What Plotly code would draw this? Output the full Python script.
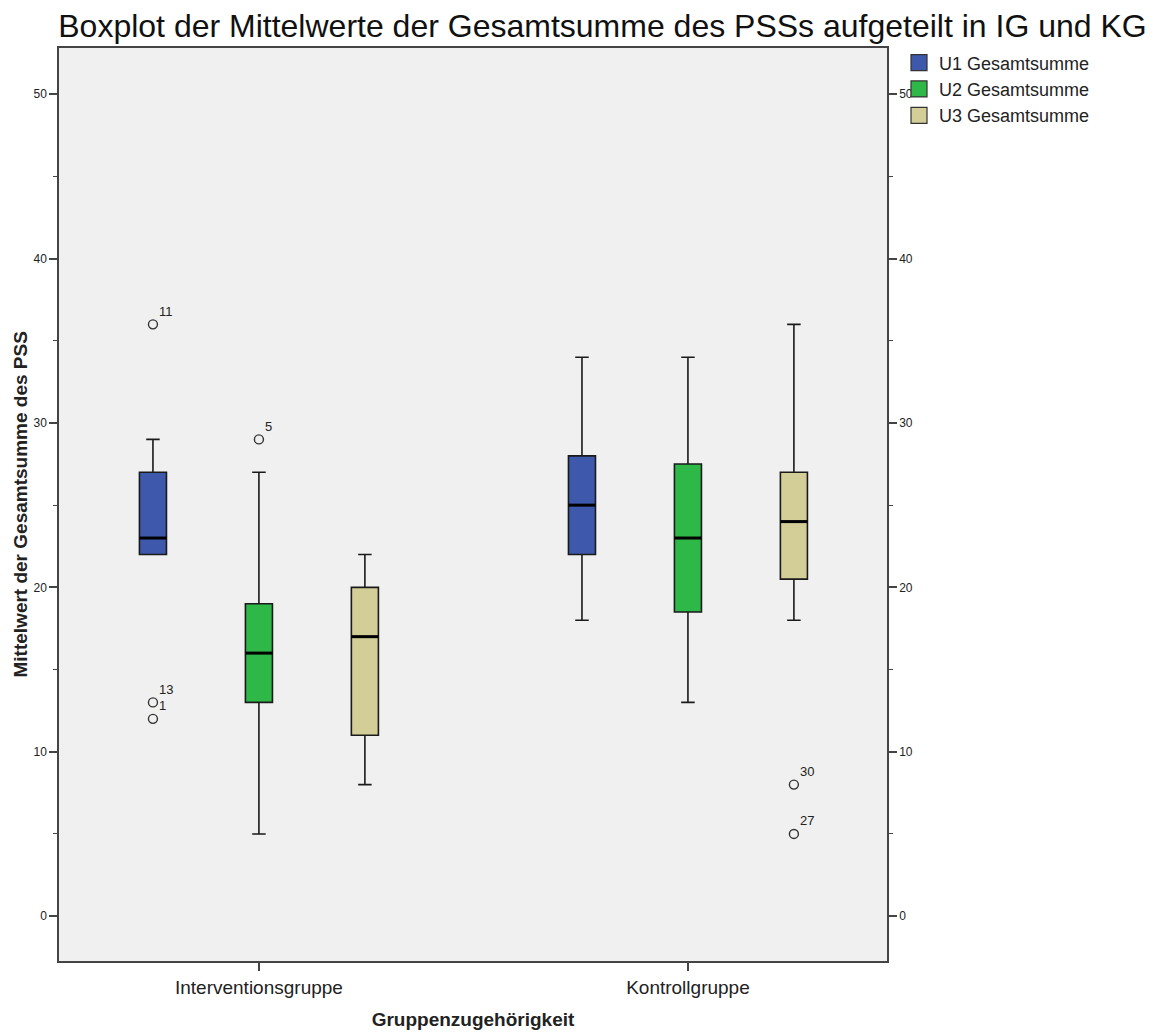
import plotly.graph_objects as go

groups = ["Interventionsgruppe", "Kontrollgruppe"]
series = ["U1 Gesamtsumme", "U2 Gesamtsumme", "U3 Gesamtsumme"]
colors = ["#3E58AC", "#2EB848", "#D3CE97"]

# per series: [IG, KG]
q1 = {"U1 Gesamtsumme": [22, 22], "U2 Gesamtsumme": [13, 18.5], "U3 Gesamtsumme": [11, 20.5]}
median = {"U1 Gesamtsumme": [23, 25], "U2 Gesamtsumme": [16, 23], "U3 Gesamtsumme": [17, 24]}
q3 = {"U1 Gesamtsumme": [27, 28], "U2 Gesamtsumme": [19, 27.5], "U3 Gesamtsumme": [20, 27]}
lower = {"U1 Gesamtsumme": [22, 18], "U2 Gesamtsumme": [5, 13], "U3 Gesamtsumme": [8, 18]}
upper = {"U1 Gesamtsumme": [29, 34], "U2 Gesamtsumme": [27, 34], "U3 Gesamtsumme": [22, 36]}

# outliers: (series, group index, value, case label)
out_series = ["U1 Gesamtsumme", "U1 Gesamtsumme", "U1 Gesamtsumme", "U2 Gesamtsumme", "U3 Gesamtsumme", "U3 Gesamtsumme"]
out_group = [0, 0, 0, 0, 1, 1]
out_value = [36, 13, 12, 29, 8, 5]
out_label = ["11", "13", "1", "5", "30", "27"]

offset = 0.247
bw = 0.063

fig = go.Figure()

for i, s in enumerate(series):
    pos = [g + (i - 1) * offset for g in range(len(groups))]
    fig.add_trace(go.Box(
        x=pos, q1=q1[s], median=median[s], q3=q3[s],
        lowerfence=lower[s], upperfence=upper[s],
        name=s, fillcolor=colors[i],
        line=dict(color="#1a1a1a", width=1.6),
        width=bw, whiskerwidth=0.5, boxpoints=False,
        showlegend=False, hoverinfo="skip",
    ))

# median lines (thicker, black)
for i, s in enumerate(series):
    xs, ys = [], []
    for g in range(len(groups)):
        p = g + (i - 1) * offset
        xs += [p - bw / 2, p + bw / 2, None]
        ys += [median[s][g], median[s][g], None]
    fig.add_trace(go.Scatter(x=xs, y=ys, mode="lines",
                             line=dict(color="black", width=3),
                             showlegend=False, hoverinfo="skip"))

ox = [out_group[k] + (series.index(out_series[k]) - 1) * offset for k in range(len(out_value))]
fig.add_trace(go.Scatter(
    x=ox, y=out_value, mode="markers",
    marker=dict(symbol="circle-open", size=9, color="#333", line=dict(width=1.4)),
    showlegend=False, hoverinfo="skip", cliponaxis=False,
))
for k in range(len(out_value)):
    fig.add_annotation(x=ox[k], y=out_value[k], text=out_label[k], showarrow=False,
                       xanchor="left", yanchor="middle", xshift=4, yshift=13,
                       font=dict(family="Liberation Sans, Arial", size=13, color="#222"))

# legend entries (square swatches)
for i, s in enumerate(series):
    fig.add_trace(go.Scatter(
        x=[None], y=[None], mode="markers", name=s,
        marker=dict(symbol="square", size=16, color=colors[i], line=dict(color="#333", width=1.2)),
        showlegend=True, hoverinfo="skip",
    ))

yr = [-2.73, 52.81]
axis_line = dict(showline=True, linecolor="#444", linewidth=1.5)
fig.update_layout(
    width=1155, height=1034,
    paper_bgcolor="white", plot_bgcolor="#F0F0F0",
    margin=dict(l=51, r=276, t=40, b=81, autoexpand=False),
    font=dict(family="Liberation Sans, Arial", color="#222"),
    title=dict(text="Boxplot der Mittelwerte der Gesamtsumme des PSSs aufgeteilt in IG und KG",
               x=(602.5 - 8) / 1155, xanchor="center", y=1 - 7 / 1034, yanchor="top",
               font=dict(size=32, color="#111")),
    legend=dict(x=1.0145, y=1.004, xanchor="left", yanchor="top",
                font=dict(size=18, color="#222"), bgcolor="rgba(0,0,0,0)",
                tracegroupgap=0, itemwidth=30),
    xaxis=dict(range=[-0.466, 1.464], tickvals=list(range(len(groups))), ticktext=groups,
               ticks="outside", ticklen=8, tickcolor="#444", tickwidth=1.5,
               tickfont=dict(size=19), showgrid=False, zeroline=False,
               mirror=True, automargin=False, **axis_line,
               title=dict(text="<b>Gruppenzugehörigkeit</b>", font=dict(size=19), standoff=16)),
    yaxis=dict(range=yr, dtick=10, tick0=0, ticks="outside", ticklen=8, tickcolor="#444",
               tickwidth=1.5, tickfont=dict(size=12), showgrid=False, zeroline=False,
               minor=dict(dtick=5, tick0=0, ticks="outside", ticklen=4, tickcolor="#444", tickwidth=1.2),
               automargin=False, **axis_line),
    yaxis2=dict(range=yr, overlaying="y", side="right", dtick=10, tick0=0, ticks="outside",
                ticklen=8, tickcolor="#444", tickwidth=1.5, tickfont=dict(size=12),
                showgrid=False, zeroline=False, automargin=False,
                minor=dict(dtick=5, tick0=0, ticks="outside", ticklen=4, tickcolor="#444", tickwidth=1.2),
                **axis_line),
)
fig.add_annotation(xref="paper", yref="paper", x=(20 - 8 - 51) / 828, y=0.5,
                   text="<b>Mittelwert der Gesamtsumme des PSS</b>", textangle=-90,
                   showarrow=False, xanchor="center", yanchor="middle",
                   font=dict(size=19, color="#222"))
fig.add_trace(go.Scatter(x=[None], y=[None], yaxis="y2", showlegend=False, hoverinfo="skip"))

fig.write_html("out.html")
